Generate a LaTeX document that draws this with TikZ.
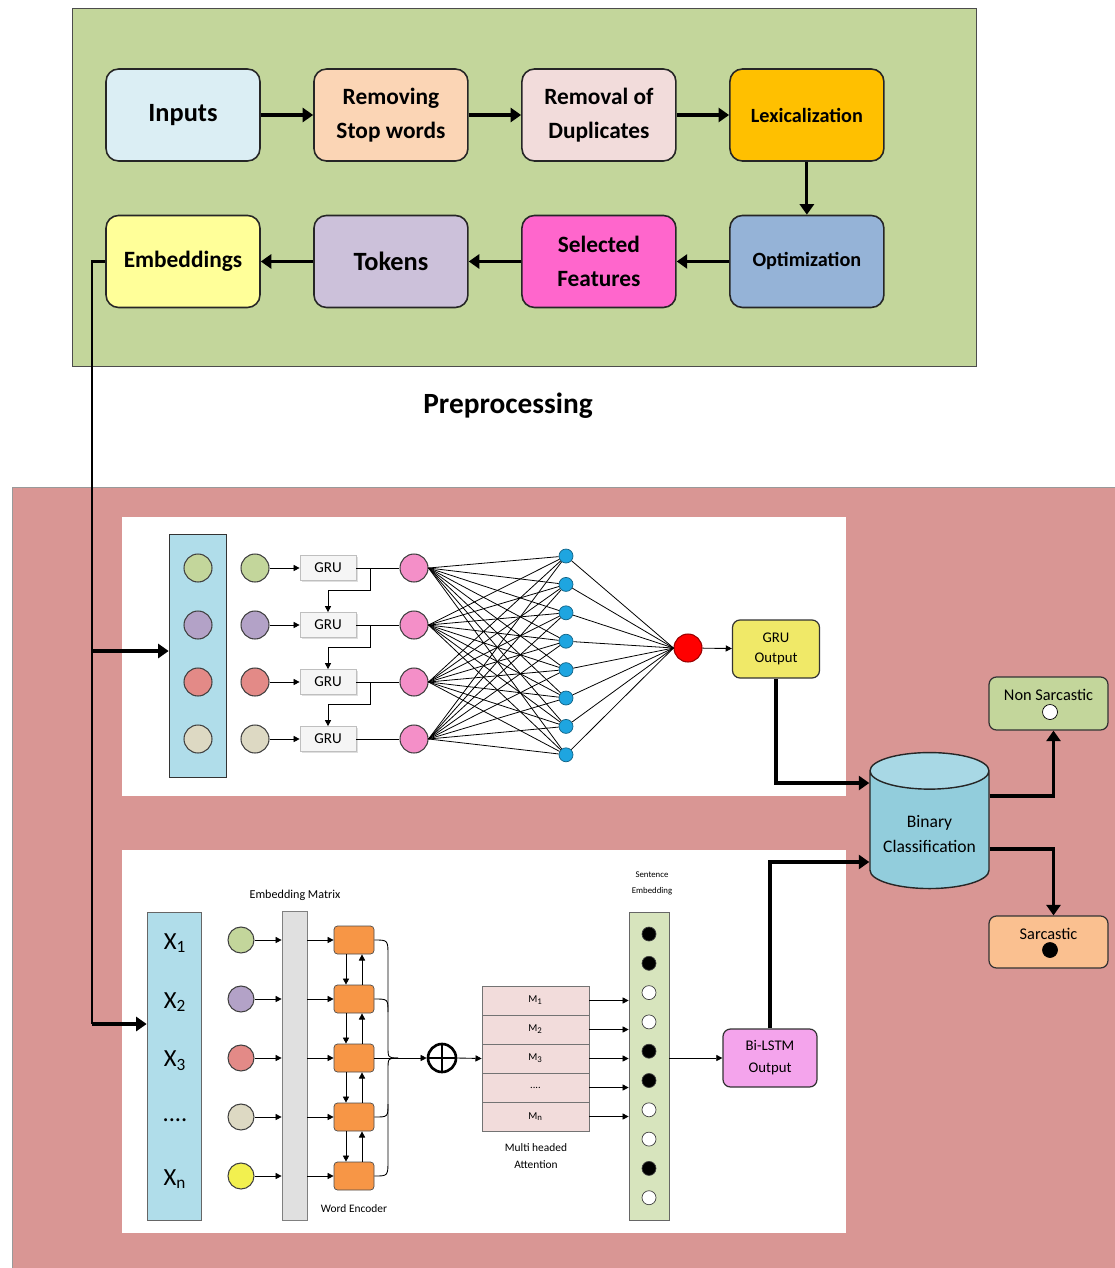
\documentclass[tikz,border=0pt]{standalone}
\usepackage{fontspec}
\setmainfont{Carlito}
\usetikzlibrary{shapes,arrows.meta,positioning,shadows}
\definecolor{cPre}{HTML}{C3D69B}
\definecolor{cBg}{HTML}{D99694}
\definecolor{cInputs}{HTML}{DBEEF4}
\definecolor{cStop}{HTML}{FBD5B5}
\definecolor{cDup}{HTML}{F2DCDB}
\definecolor{cLex}{HTML}{FFC000}
\definecolor{cOpt}{HTML}{95B3D7}
\definecolor{cSel}{HTML}{FF66CC}
\definecolor{cTok}{HTML}{CCC1DA}
\definecolor{cEmb}{HTML}{FFFF99}
\definecolor{cCol}{HTML}{B0DDEA}
\definecolor{cCyl}{HTML}{92CDDC}
\definecolor{cCylTop}{HTML}{A8D8E5}
\definecolor{cGreen}{HTML}{C3D69B}
\definecolor{cPurple}{HTML}{B3A2C7}
\definecolor{cRed}{HTML}{E38A87}
\definecolor{cBeige}{HTML}{DDD9C3}
\definecolor{cYel}{HTML}{F2F04F}
\definecolor{cPink}{HTML}{F48FC8}
\definecolor{cHid}{HTML}{1EA5E0}
\definecolor{cGruOut}{HTML}{F0E968}
\definecolor{cOrange}{HTML}{F79646}
\definecolor{cSarc}{HTML}{FAC090}
\definecolor{cLstm}{HTML}{F4A4EC}
\definecolor{cSent}{HTML}{D7E4BD}
\newcommand{\fourdots}{....}
\tikzset{stagebox/.style={rectangle,draw=black!85,line width=0.9pt,rounded corners=0.25cm,minimum width=3.08cm,minimum height=1.84cm,align=center,font=\bfseries\fontsize{13.3}{19}\selectfont}}
\tikzset{arrow/.style={draw,line width=2.2pt,-{Triangle[length=6pt,width=8pt]}}}
\tikzset{wire/.style={draw,line width=0.5pt,-{Triangle[length=3.5pt,width=3.5pt]}}}
\tikzset{neuron/.style={circle,draw=black!75,line width=0.6pt,minimum size=0.56cm,inner sep=0pt}}
\tikzset{sdot/.style={circle,draw=black!75,line width=0.4pt,minimum size=0.28cm,inner sep=0pt}}
\tikzset{gru/.style={rectangle,draw=black!25,fill=gray!8,minimum width=1.12cm,minimum height=0.5cm,font=\fontsize{8.6}{10}\selectfont,drop shadow={opacity=0.25,shadow xshift=1pt,shadow yshift=-1pt}}}
\tikzset{enc/.style={rectangle,draw=black!70,fill=cOrange,rounded corners=2pt,minimum width=0.8cm,minimum height=0.56cm}}
\tikzset{outbox/.style={rectangle,draw=black!80,line width=0.7pt,rounded corners=0.15cm,align=center}}
\tikzset{caption/.style={align=center,inner sep=0pt}}

\begin{document}
\begin{tikzpicture}[x=0.02cm,y=-0.02cm,node distance=4.16cm]
    \useasboundingbox (0,0) rectangle (1115,1268);
    % backgrounds
    \filldraw[fill=cPre,draw=black!70,line width=0.5pt] (72,8) rectangle (976,366);
    \filldraw[fill=cBg,draw=black!40,line width=0.5pt] (12,487) rectangle (1118,1272);
    \fill[white] (122,517) rectangle (846,796);
    \fill[white] (122,850) rectangle (846,1233);

    % preprocessing
    \node[stagebox,fill=cInputs,font=\bfseries\fontsize{15}{19}\selectfont] (inputs) at (183,115) {Inputs};
    \node[stagebox,fill=cStop,right of=inputs] (stop) {Removing\\Stop words};
    \node[stagebox,fill=cDup,right of=stop] (dup) {Removal of\\Duplicates};
    \node[stagebox,fill=cLex,right of=dup,font=\bfseries\fontsize{11.5}{14}\selectfont] (lex) {Lexicalization};
    \node[stagebox,fill=cOpt,below of=lex,node distance=2.93cm,font=\bfseries\fontsize{11.5}{14}\selectfont] (optim) {Optimization};
    \node[stagebox,fill=cSel,left of=optim] (sel) {Selected\\Features};
    \node[stagebox,fill=cTok,left of=sel,font=\bfseries\fontsize{15}{19}\selectfont] (tok) {Tokens};
    \node[stagebox,fill=cEmb,left of=tok] (emb) {Embeddings};
    \node[font=\bfseries\fontsize{16.7}{20}\selectfont] (prelabel) at (508,406) {Preprocessing};

    \path[arrow] (inputs) -- (stop);
    \path[arrow] (stop) -- (dup);
    \path[arrow] (dup) -- (lex);
    \path[arrow,line width=1.6pt] (lex) -- (optim);
    \path[arrow] (optim) -- (sel);
    \path[arrow] (sel) -- (tok);
    \path[arrow] (tok) -- (emb);

    % embeddings feed both models
    \coordinate (busA) at (92,651);
    \coordinate (busB) at (92,1024);
    \draw[line width=1.7pt] (emb.west) -| (busB);
    \node[draw=black!80,fill=cCol,minimum width=1.14cm,minimum height=4.86cm] (colA) at (197.5,655.5) {};
    \node[draw=black!60,fill=cCol,minimum width=1.08cm,minimum height=6.16cm] (colB) at (174,1066) {};
    \path[arrow] (busA) -- (busA -| colA.west);
    \path[arrow] (busB) -- (busB -| colB.west);

    % GRU model
    \foreach \y/\c [count=\i] in {568/cGreen,625/cPurple,682/cRed,739/cBeige} {
        \node[neuron,fill=\c] (a\i) at (198,\y) {};
        \node[neuron,fill=\c] (b\i) at (255,\y) {};
        \node[gru] (g\i) at (328,\y) {GRU};
        \node[neuron,fill=cPink] (p\i) at (414,\y) {};
        \path[wire] (b\i) -- (g\i);
        \draw[line width=0.5pt] (g\i) -- (p\i);
    }
    \foreach \i/\j in {1/2,2/3,3/4}
        \path[wire] (g\i.east) ++(14,0) -- ++(0,22) -| (g\j.north);
    \foreach \k in {1,...,8}
        \node[sdot,fill=cHid,draw=cHid!60!black] (h\k) at (566,{556+(\k-1)*28.4}) {};
    \node[neuron,fill=red,draw=red!60!black] (gout) at (688,648) {};
    \foreach \i in {1,...,4}
        \foreach \k in {1,...,8}
            \draw[line width=0.45pt] (p\i.east) -- (h\k);
    \foreach \k in {1,...,8}
        \draw[line width=0.45pt] (h\k) -- (gout.west);
    \node[outbox,fill=cGruOut,minimum width=1.74cm,minimum height=1.16cm,font=\fontsize{8.4}{11.3}\selectfont] (gruout) at (776,649) {GRU\\Output};
    \path[wire] (gout) -- (gruout);

    % attention model
    \node[font=\fontsize{6.9}{8}\selectfont] (embmat) at (295,895) {Embedding Matrix};
    \node[draw=black!50,fill=black!12,minimum width=0.5cm,minimum height=6.18cm] (mat) at (294.5,1065.5) {};
    \foreach \y/\c/\t [count=\i] in {940/cGreen/X\textsubscript{1},999/cPurple/X\textsubscript{2},1058/cRed/X\textsubscript{3},1117/cBeige/\fourdots,1176/cYel/X\textsubscript{n}} {
        \node[font=\fontsize{14}{16}\selectfont] (x\i) at (175,\y+3) {\t};
        \node[neuron,minimum size=0.52cm,fill=\c] (e\i) at (241,\y) {};
        \node[enc] (o\i) at (354,\y) {};
        \path[wire] (e\i) -- (e\i -| mat.west);
        \path[wire] (e\i -| mat.east) -- (o\i);
    }
    \foreach \i/\j in {1/2,2/3,3/4,4/5} {
        \path[wire] ([xshift=-0.16cm]o\i.south) -- ([xshift=-0.16cm]o\j.north);
        \path[wire] ([xshift=0.16cm]o\j.north) -- ([xshift=0.16cm]o\i.south);
    }
    \node[font=\fontsize{6.5}{8}\selectfont] (wordenc) at (354,1209) {Word Encoder};
    \coordinate (brace) at (398,1058);
    \draw[line width=0.5pt] (o1.east) .. controls (388,940) .. (388,956) -- (388,1046) .. controls (388,1058) .. (brace);
    \draw[line width=0.5pt] (o5.east) .. controls (388,1176) .. (388,1160) -- (388,1070) .. controls (388,1058) .. (brace);
    \draw[line width=0.5pt] (o2.east) .. controls (388,999) .. (388,1012);
    \draw[line width=0.5pt] (o4.east) .. controls (388,1117) .. (388,1104);
    \node[circle,draw,line width=1.5pt,minimum size=0.56cm,inner sep=0pt] (sum) at (442,1058) {};
    \draw[line width=1.5pt] (sum.north) -- (sum.south) (sum.west) -- (sum.east);
    \path[wire] (o3.east) -- (sum.west);
    \foreach \y/\t [count=\i] in {1000.5/M\textsubscript{1},1029.5/M\textsubscript{2},1058.5/M\textsubscript{3},1087.5/\fourdots,1116.5/M\textsubscript{n}}
        \node[draw=black!55,fill=cDup,minimum width=2.14cm,minimum height=0.58cm,font=\fontsize{6}{7}\selectfont] (att\i) at (535.5,\y) {\t};
    \path[wire] (sum.east) -- (att3.west);
    \node[caption,font=\fontsize{6.5}{10}\selectfont] (attlabel) at (536,1156) {Multi headed\\Attention};
    \node[draw=black!60,fill=cSent,minimum width=0.8cm,minimum height=6.16cm] (sent) at (649,1066) {};
    \node[caption,font=\fontsize{5}{9}\selectfont] (sentlabel) at (652,883) {Sentence\\Embedding};
    \foreach \i in {1,...,5}
        \path[wire] (att\i.east) -- (att\i.east -| sent.west);
    \foreach \f [count=\k] in {black,black,white,white,black,black,white,white,black,white}
        \node[sdot,fill=\f] (s\k) at (649,{934+(\k-1)*29.3}) {};
    \node[outbox,fill=cLstm,minimum width=1.88cm,minimum height=1.16cm,font=\fontsize{8.4}{12.5}\selectfont] (bilstm) at (770,1058) {Bi-LSTM\\Output};
    \path[wire] (bilstm.west -| sent.east) -- (bilstm.west);

    % classification
    \node[cylinder,shape border rotate=90,draw=black!85,line width=0.8pt,aspect=0.35,
          cylinder uses custom fill,cylinder body fill=cCyl,cylinder end fill=cCylTop,
          minimum width=2.38cm,minimum height=2.72cm,align=center,
          font=\fontsize{10}{14}\selectfont] (bin) at (929.5,834) {Binary\\Classification};
    \node[outbox,fill=cGreen,minimum width=2.38cm,minimum height=1.06cm] (nonsarc) at (1048.5,703.5) {};
    \node[font=\fontsize{9.3}{11}\selectfont] (nonsarctxt) at (1048.5,695) {Non Sarcastic};
    \node[sdot,fill=white,draw=black,minimum size=0.3cm] (nonsarcdot) at (1050,712) {};
    \node[outbox,fill=cSarc,minimum width=2.38cm,minimum height=1.04cm] (sarc) at (1048.5,942) {};
    \node[font=\fontsize{9.3}{11}\selectfont] (sarctxt) at (1048.5,934) {Sarcastic};
    \node[sdot,fill=black,draw=black,minimum size=0.3cm] (sarcdot) at (1050,950) {};

    \path[arrow] (gruout.south) |- ([yshift=1.02cm]bin.west);
    \path[arrow] (bilstm.north) |- ([yshift=-0.56cm]bin.west);
    \path[arrow] ([yshift=0.76cm]bin.east) -| ([xshift=0.1cm]nonsarc.south);
    \path[arrow] ([yshift=-0.30cm]bin.east) -| ([xshift=0.1cm]sarc.north);
\end{tikzpicture}
\end{document}
